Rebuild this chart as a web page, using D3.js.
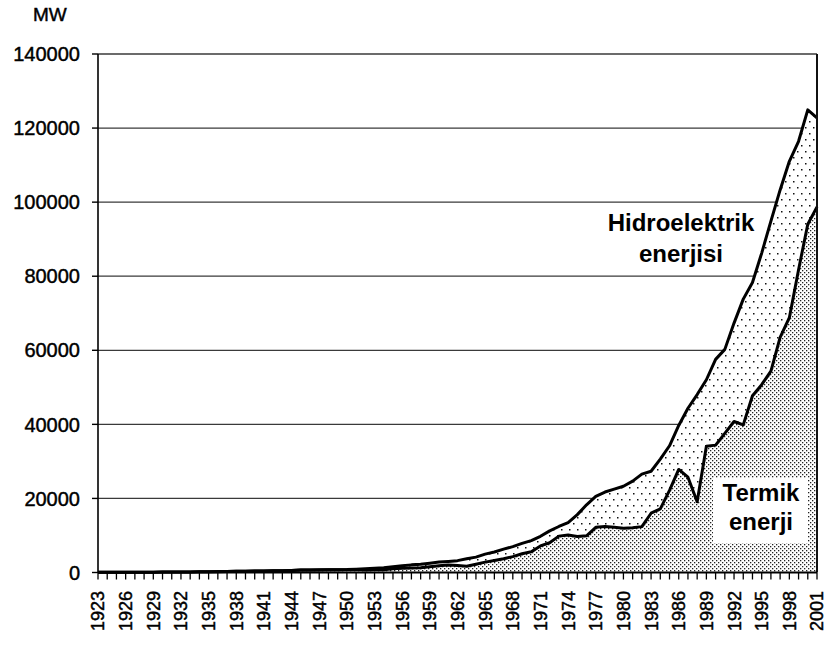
<!DOCTYPE html>
<html lang="tr">
<head>
    <meta charset="UTF-8"/>
    <title>Termik ve hidroelektrik enerji</title>
    <script src="https://d3js.org/d3.v7.min.js" charset="utf-8"></script>
    <style type="text/css">
        body { margin: 0; background: #fff; }
        text { font-family: "Liberation Sans", Arial, sans-serif; fill: #000; }
        .tick-label { stroke: #000; stroke-width: 0.45px; }
        .grid line { stroke: #3a3a3a; stroke-width: 1.3px; }
        .line { fill: none; stroke: #000; stroke-width: 3px; stroke-linejoin: round; }
    </style>
</head>
<body>
<div id="chart"></div>
<script type="text/javascript">

    var years = [1923, 1924, 1925, 1926, 1927, 1928, 1929, 1930, 1931, 1932, 1933, 1934, 1935, 1936, 1937, 1938,
        1939, 1940, 1941, 1942, 1943, 1944, 1945, 1946, 1947, 1948, 1949, 1950, 1951, 1952, 1953, 1954, 1955, 1956,
        1957, 1958, 1959, 1960, 1961, 1962, 1963, 1964, 1965, 1966, 1967, 1968, 1969, 1970, 1971, 1972, 1973, 1974,
        1975, 1976, 1977, 1978, 1979, 1980, 1981, 1982, 1983, 1984, 1985, 1986, 1987, 1988, 1989, 1990, 1991, 1992,
        1993, 1994, 1995, 1996, 1997, 1998, 1999, 2000, 2001];

    // Termik enerji (alt seri)
    var termik = [42, 47, 54, 62, 70, 81, 92, 103, 117, 130, 147, 177, 198, 235, 275, 322,
        355, 382, 415, 445, 485, 545, 643, 675, 705, 725, 745, 765, 828, 708, 713, 768, 980, 1115,
        1210, 1309, 1562, 1814, 2000, 1900, 1700, 2250, 2803, 3230, 3710, 4280, 5050, 5590, 7171, 8037, 9822, 10120,
        9719, 9908, 12192, 12391, 12232, 11927, 12057, 12385, 16004, 17188, 22174, 27822, 25735, 19099, 34103, 34395, 37563, 40774,
        39857, 47736, 50706, 54387, 63480, 68793, 81762, 94043, 98715];

    // Hidroelektrik enerji (ustte yigilan seri)
    var hidro = [3, 3, 3, 3, 3, 3, 3, 3, 3, 3, 3, 3, 15, 15, 15, 15,
        15, 15, 15, 15, 15, 15, 25, 25, 25, 25, 25, 25, 60, 300, 450, 500, 600, 700,
        850, 900, 950, 1001, 1000, 1300, 2000, 1900, 2150, 2300, 2600, 2700, 2800, 3033, 2610, 3205, 2603, 3357,
        5904, 8375, 8373, 9335, 10290, 11348, 12616, 14167, 11343, 13426, 12045, 11873, 18618, 28950, 17940, 23148, 22683, 26568,
        33951, 30586, 35541, 40475, 39816, 42229, 34678, 30879, 24010];

    var yTicks = [0, 20000, 40000, 60000, 80000, 100000, 120000, 140000];
    var xLabels = years.filter(function(d, i) { return i % 3 === 0; });

    var width = 826, height = 645;
    var margin = {top: 54, right: 9, bottom: 72, left: 98};

    var svg = d3.select("#chart")
        .append("svg")
        .attr("width", width)
        .attr("height", height);

    var x = d3.scalePoint()
        .domain(years)
        .range([margin.left, width - margin.right]);

    var y = d3.scaleLinear()
        .domain([0, 140000])
        .range([height - margin.bottom - 0.5, margin.top]);

    var defs = svg.append("defs");

    var dense = defs.append("pattern")
        .attr("id", "dense")
        .attr("patternUnits", "userSpaceOnUse")
        .attr("width", 4).attr("height", 4);
    dense.append("rect").attr("width", 4).attr("height", 4).attr("fill", "#fff");
    dense.append("rect").attr("x", 0).attr("y", 0).attr("width", 1.3).attr("height", 1.3).attr("fill", "#222");
    dense.append("rect").attr("x", 2).attr("y", 2).attr("width", 1.3).attr("height", 1.3).attr("fill", "#222");

    var sparse = defs.append("pattern")
        .attr("id", "sparse")
        .attr("patternUnits", "userSpaceOnUse")
        .attr("width", 8).attr("height", 12);
    sparse.append("rect").attr("width", 8).attr("height", 12).attr("fill", "#fff");
    sparse.append("rect").attr("x", 1).attr("y", 1).attr("width", 1.5).attr("height", 1.5).attr("fill", "#111");
    sparse.append("rect").attr("x", 5).attr("y", 7).attr("width", 1.5).attr("height", 1.5).attr("fill", "#111");

    var data = years.map(function(yr, i) {
        return {year: yr, termik: termik[i], hidro: hidro[i]};
    });

    var series = d3.stack().keys(["termik", "hidro"])(data);

    // yatay izgara
    svg.append("g")
        .attr("class", "grid")
        .selectAll("line")
        .data(yTicks.slice(1))
        .enter()
        .append("line")
        .attr("x1", x.range()[0])
        .attr("x2", x.range()[1])
        .attr("y1", function(d) { return y(d); })
        .attr("y2", function(d) { return y(d); });

    var area = d3.area()
        .x(function(d) { return x(d.data.year); })
        .y0(function(d) { return y(d[0]); })
        .y1(function(d) { return y(d[1]); });

    var line = d3.line()
        .x(function(d) { return x(d.data.year); })
        .y(function(d) { return y(d[1]); });

    svg.selectAll(".area")
        .data(series)
        .enter()
        .append("path")
        .attr("class", "area")
        .attr("d", area)
        .attr("fill", function(d) { return d.key === "termik" ? "url(#dense)" : "url(#sparse)"; });

    svg.selectAll(".line")
        .data(series.slice().reverse())
        .enter()
        .append("path")
        .attr("class", "line")
        .attr("d", line);

    // cerceve: sag kenar
    svg.append("line")
        .attr("x1", x.range()[1]).attr("x2", x.range()[1])
        .attr("y1", y(140000)).attr("y2", y(0))
        .attr("stroke", "#111").attr("stroke-width", 2);

    // y ekseni
    var yAxis = svg.append("g");
    yAxis.append("line")
        .attr("x1", margin.left).attr("x2", margin.left)
        .attr("y1", y(140000)).attr("y2", y(0))
        .attr("stroke", "#000").attr("stroke-width", 1.6);
    yAxis.selectAll(".ytick")
        .data(yTicks)
        .enter()
        .append("line")
        .attr("x1", margin.left - 6).attr("x2", margin.left)
        .attr("y1", function(d) { return y(d); })
        .attr("y2", function(d) { return y(d); })
        .attr("stroke", "#000").attr("stroke-width", 1.4);
    yAxis.selectAll(".ylab")
        .data(yTicks)
        .enter()
        .append("text")
        .attr("class", "tick-label")
        .attr("x", 80)
        .attr("y", function(d) { return y(d); })
        .attr("dy", "0.36em")
        .attr("text-anchor", "end")
        .style("font-size", "20px")
        .text(function(d) { return d; });

    // x ekseni
    var xAxis = svg.append("g");
    xAxis.append("line")
        .attr("x1", x.range()[0]).attr("x2", x.range()[1])
        .attr("y1", y(0)).attr("y2", y(0))
        .attr("stroke", "#000").attr("stroke-width", 1.8);
    xAxis.selectAll(".xtick")
        .data(years)
        .enter()
        .append("line")
        .attr("x1", function(d) { return x(d); })
        .attr("x2", function(d) { return x(d); })
        .attr("y1", y(0)).attr("y2", y(0) + 7)
        .attr("stroke", "#000").attr("stroke-width", 1.3);
    xAxis.selectAll(".xlab")
        .data(xLabels)
        .enter()
        .append("text")
        .attr("class", "tick-label")
        .attr("transform", function(d) { return "translate(" + x(d) + ",591)rotate(-90)"; })
        .attr("dy", "0.36em")
        .attr("text-anchor", "end")
        .style("font-size", "18px")
        .text(function(d) { return d; });

    svg.append("text")
        .attr("class", "tick-label")
        .attr("x", 33).attr("y", 21)
        .style("font-size", "19px")
        .text("MW");

    // etiketler
    svg.append("text")
        .attr("x", 681).attr("y", 231)
        .attr("text-anchor", "middle")
        .style("font-size", "24px").style("font-weight", "bold")
        .text("Hidroelektrik");
    svg.append("text")
        .attr("x", 681).attr("y", 262)
        .attr("text-anchor", "middle")
        .style("font-size", "24px").style("font-weight", "bold")
        .text("enerjisi");

    svg.append("rect")
        .attr("x", 713).attr("y", 478)
        .attr("width", 95).attr("height", 65)
        .attr("fill", "#fff");
    svg.append("text")
        .attr("x", 761).attr("y", 501)
        .attr("text-anchor", "middle")
        .style("font-size", "24px").style("font-weight", "bold")
        .text("Termik");
    svg.append("text")
        .attr("x", 761).attr("y", 530)
        .attr("text-anchor", "middle")
        .style("font-size", "24px").style("font-weight", "bold")
        .text("enerji");

</script>
</body>
</html>
